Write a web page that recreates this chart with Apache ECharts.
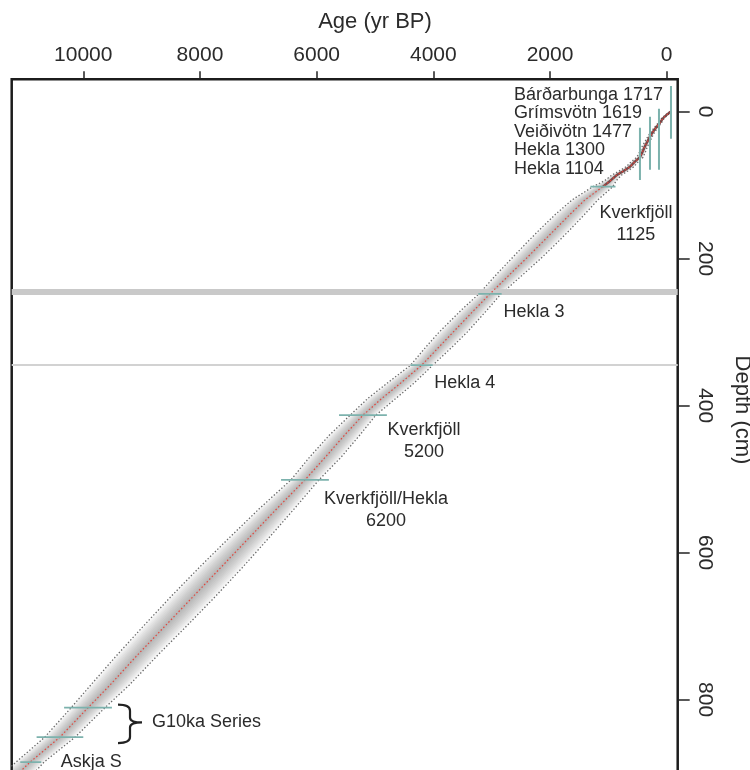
<!DOCTYPE html>
<html>
<head>
<meta charset="utf-8">
<script src="https://cdn.jsdelivr.net/npm/echarts@6/dist/echarts.min.js"></script>
<style>
html,body{margin:0;padding:0;background:#fff}
#chart{width:750px;height:770px}
</style>
</head>
<body>
<div id="chart"></div>
<script>
// Age-depth model: depth (cm) against calibrated age (yr BP)
const depthCm   = [0, 5, 9, 15, 22, 28, 34, 40, 48, 55, 62, 68, 75, 81, 86, 94, 102, 120, 140, 160, 180, 200, 220, 248, 270, 300, 320, 345, 370, 390, 413, 440, 470, 501, 540, 580, 620, 660, 700, 740, 780, 811, 851, 885, 930];
const medianAge = [-70, 10, 63, 115, 185, 240, 286, 325, 378, 415, 458, 545, 629, 745, 852, 965, 1092, 1400, 1660, 1910, 2160, 2410, 2670, 3029, 3300, 3660, 3900, 4200, 4570, 4880, 5206, 5520, 5850, 6200, 6680, 7160, 7640, 8120, 8600, 9080, 9540, 9919, 10400, 10912, 11500];
const minAge    = [-85, -8, 41, 89, 155, 206, 248, 283, 332, 365, 403, 485, 563, 671, 770, 865, 922, 1180, 1410, 1650, 1900, 2160, 2440, 2839, 3080, 3420, 3675, 4010, 4340, 4640, 4986, 5260, 5580, 5960, 6380, 6820, 7270, 7740, 8230, 8730, 9210, 9629, 10140, 10672, 11200];
const maxAge    = [-55, 28, 85, 141, 215, 274, 324, 367, 424, 465, 513, 605, 695, 819, 934, 1065, 1262, 1620, 1910, 2170, 2420, 2660, 2900, 3219, 3520, 3900, 4125, 4390, 4800, 5120, 5426, 5780, 6120, 6440, 6980, 7500, 8010, 8500, 8970, 9430, 9870, 10209, 10660, 11152, 11800];

// Tephra tie points (age with 2-sigma range)
const tephraLabel = ['Kverkfjöll\n1125', 'Hekla 3', 'Hekla 4', 'Kverkfjöll\n5200', 'Kverkfjöll/Hekla\n6200', '', '', 'Askja S'];
const tephraAge   = [1092, 3029, 4200, 5206, 6200, 9919, 10400, 10900];
const tephraDepth = [102, 248, 345, 413, 501, 811, 851, 885];
const tephraErr   = [215, 200, 190, 410, 410, 410, 400, 180];
const seriesLabel = 'G10ka Series';
const seriesMembers = [5, 6];

// Historical tephras (dated by year AD), shown with their depth ranges
const histLabel  = ['Bárðarbunga 1717', 'Grímsvötn 1619', 'Veiðivötn 1477', 'Hekla 1300', 'Hekla 1104'];
const histAge    = [-74, 132, 286, 458];
const histTop    = [-35, -4, 7, 22];
const histBottom = [37, 79, 79, 93];

// Visible tephra layers in the core
const layerDepth = [245.5, 343.7];

// Axis ticks
const ageTicks = [0, 2000, 4000, 6000, 8000, 10000];
const depthTicks = [0, 200, 400, 600, 800];

const FONT = '"Liberation Sans", Arial, sans-serif';
const TEXT = '#2b2b2b';
const TEAL = '#7cb2ad';

const chart = echarts.init(document.getElementById('chart'), null, {renderer: 'canvas'});

// label offsets (px) from each tephra mark
const labelOffset = [[33, 37], [44, 18], [43, 18], [61, 26], [81, 30], null, null, [30, 0]];
const labelAlign  = ['center', 'center', 'center', 'center', 'center', null, null, 'left'];

const bandLevels = 12;
const plain = v => String(v);

const option = {
  animation: false,
  backgroundColor: '#ffffff',
  textStyle: {fontFamily: FONT},
  grid: {
    left: 11.7, top: 79.3, width: 666, height: 720,
    show: true, borderColor: '#1c1c1c', borderWidth: 2.5,
    backgroundColor: 'transparent', containLabel: false, outerBoundsMode: 'none'
  },
  xAxis: {
    type: 'value', position: 'top', inverse: true, min: -189, max: 11227,
    axisLine: {show: false, onZero: false},
    splitLine: {show: false},
    axisTick: {show: true, inside: false, length: 8, customValues: ageTicks, lineStyle: {color: '#222', width: 1.5}},
    axisLabel: {customValues: ageTicks, formatter: plain, fontSize: 21, color: TEXT, margin: 14, fontFamily: FONT}
  },
  yAxis: {
    type: 'value', position: 'right', inverse: true, min: -44, max: 935.6,
    axisLine: {show: false, onZero: false},
    splitLine: {show: false},
    axisTick: {show: true, inside: false, length: 12, customValues: depthTicks, lineStyle: {color: '#222', width: 1.5}},
    axisLabel: {customValues: depthTicks, formatter: plain, fontSize: 21, color: TEXT, margin: 17, rotate: -90, fontFamily: FONT}
  },
  graphic: [
    {type: 'text', x: 375, y: 22, style: {text: 'Age (yr BP)', font: '22px ' + FONT, fill: TEXT, align: 'center', verticalAlign: 'middle'}},
    {type: 'text', x: 742, y: 410, rotation: -Math.PI / 2, style: {text: 'Depth (cm)', font: '22px ' + FONT, fill: TEXT, align: 'center', verticalAlign: 'middle'}},
    {type: 'text', x: 514, y: 85.5, style: {text: histLabel.join('\n'), font: '18px ' + FONT, fill: TEXT, align: 'left', verticalAlign: 'top', lineHeight: 18.5}}
  ],
  series: [
    // tephra layer lines
    {
      type: 'line', data: [], silent: true, z: 1,
      markLine: {
        silent: true, symbol: 'none', label: {show: false}, animation: false,
        data: [
          {yAxis: layerDepth[0], lineStyle: {color: '#c9c9c9', width: 6, type: 'solid'}},
          {yAxis: layerDepth[1], lineStyle: {color: '#d2d2d2', width: 1.8, type: 'solid'}}
        ]
      }
    },
    // shaded uncertainty envelope
    {
      type: 'custom', silent: true, z: 2, clip: true,
      data: [[0, 0]],
      renderItem: function (params, api) {
        const cs = params.coordSys;
        const children = [];
        for (let k = 0; k < bandLevels; k++) {
          const f = 1 - k / bandLevels;
          const pts = [];
          for (let i = 0; i < depthCm.length; i++) {
            pts.push(api.coord([medianAge[i] + (minAge[i] - medianAge[i]) * f, depthCm[i]]));
          }
          for (let i = depthCm.length - 1; i >= 0; i--) {
            pts.push(api.coord([medianAge[i] + (maxAge[i] - medianAge[i]) * f, depthCm[i]]));
          }
          children.push({type: 'polygon', shape: {points: pts}, style: {fill: 'rgba(85,85,85,0.042)'}});
        }
        return {type: 'group', children: children,
          clipPath: {type: 'rect', shape: {x: cs.x, y: cs.y, width: cs.width, height: cs.height}}};
      }
    },
    // envelope bounds
    {
      type: 'line', silent: true, z: 3, showSymbol: false, symbol: 'none',
      data: depthCm.map((d, i) => [minAge[i], d]),
      lineStyle: {color: '#6a6a6a', width: 1.3, type: [1.4, 2]}
    },
    {
      type: 'line', silent: true, z: 3, showSymbol: false, symbol: 'none',
      data: depthCm.map((d, i) => [maxAge[i], d]),
      lineStyle: {color: '#6a6a6a', width: 1.3, type: [1.4, 2]}
    },
    // upper section of the model (dense, well-constrained)
    {
      type: 'line', silent: true, z: 4, showSymbol: false, symbol: 'none',
      data: depthCm.filter(d => d <= 102).map((d, i) => [medianAge[i], d]),
      lineStyle: {color: '#6e3d3d', width: 2.4, opacity: 0.9}
    },
    // median age
    {
      type: 'line', silent: true, z: 5, showSymbol: false, symbol: 'none',
      data: depthCm.map((d, i) => [medianAge[i], d]),
      lineStyle: {color: '#e2453c', width: 1.2, type: [1.5, 2.2]}
    },
    // tephra age ranges (horizontal bars)
    {
      type: 'custom', silent: true, z: 6, clip: true,
      data: tephraAge.map((a, i) => [a, tephraDepth[i], tephraErr[i]]),
      renderItem: function (params, api) {
        const a = api.value(0), d = api.value(1), e = api.value(2);
        const p1 = api.coord([a - e, d]);
        const p2 = api.coord([a + e, d]);
        return {type: 'line', shape: {x1: p1[0], y1: p1[1], x2: p2[0], y2: p2[1]},
          style: {stroke: TEAL, lineWidth: 1.8}};
      }
    },
    // historical tephras (vertical bars)
    {
      type: 'custom', silent: true, z: 6, clip: true,
      data: histAge.map((a, i) => [a, histTop[i], histBottom[i]]),
      renderItem: function (params, api) {
        const a = api.value(0);
        const p1 = api.coord([a, api.value(1)]);
        const p2 = api.coord([a, api.value(2)]);
        return {type: 'line', shape: {x1: p1[0], y1: p1[1], x2: p2[0], y2: p2[1]},
          style: {stroke: TEAL, lineWidth: 2}};
      }
    },
    // tephra labels
    {
      type: 'custom', silent: true, z: 7, clip: false,
      data: tephraAge.map((a, i) => [a, tephraDepth[i], i]),
      renderItem: function (params, api) {
        const i = api.value(2);
        if (!tephraLabel[i]) return null;
        const p = api.coord([api.value(0), api.value(1)]);
        const off = labelOffset[i];
        return {type: 'text', x: p[0] + off[0], y: p[1] + off[1],
          style: {text: tephraLabel[i], font: '18px ' + FONT, fill: TEXT,
            align: labelAlign[i], verticalAlign: 'middle', lineHeight: 22}};
      }
    },
    // bracket and label for the G10ka series
    {
      type: 'custom', silent: true, z: 7, clip: false,
      data: [[tephraAge[seriesMembers[0]], tephraDepth[seriesMembers[0]], tephraDepth[seriesMembers[1]]]],
      renderItem: function (params, api) {
        const top = api.coord([api.value(0), api.value(1)]);
        const bot = api.coord([api.value(0), api.value(2)]);
        const hx = top[0] + 30, sx = top[0] + 42, tx = top[0] + 54;
        const y0 = top[1] - 3, y1 = bot[1] + 6, ym = (top[1] + bot[1]) / 2;
        const path = 'M' + hx + ' ' + y0 +
          ' Q' + sx + ' ' + y0 + ' ' + sx + ' ' + (y0 + 6) +
          ' L' + sx + ' ' + (ym - 5) +
          ' Q' + sx + ' ' + ym + ' ' + tx + ' ' + ym +
          ' Q' + sx + ' ' + ym + ' ' + sx + ' ' + (ym + 5) +
          ' L' + sx + ' ' + (y1 - 6) +
          ' Q' + sx + ' ' + y1 + ' ' + hx + ' ' + y1;
        return {type: 'group', children: [
          {type: 'path', shape: {pathData: path}, style: {stroke: '#222', lineWidth: 2.2, fill: null}},
          {type: 'text', x: top[0] + 64, y: ym, style: {text: seriesLabel, font: '18px ' + FONT, fill: TEXT, align: 'left', verticalAlign: 'middle'}}
        ]};
      }
    }
  ]
};

chart.setOption(option);
</script>
</body>
</html>
